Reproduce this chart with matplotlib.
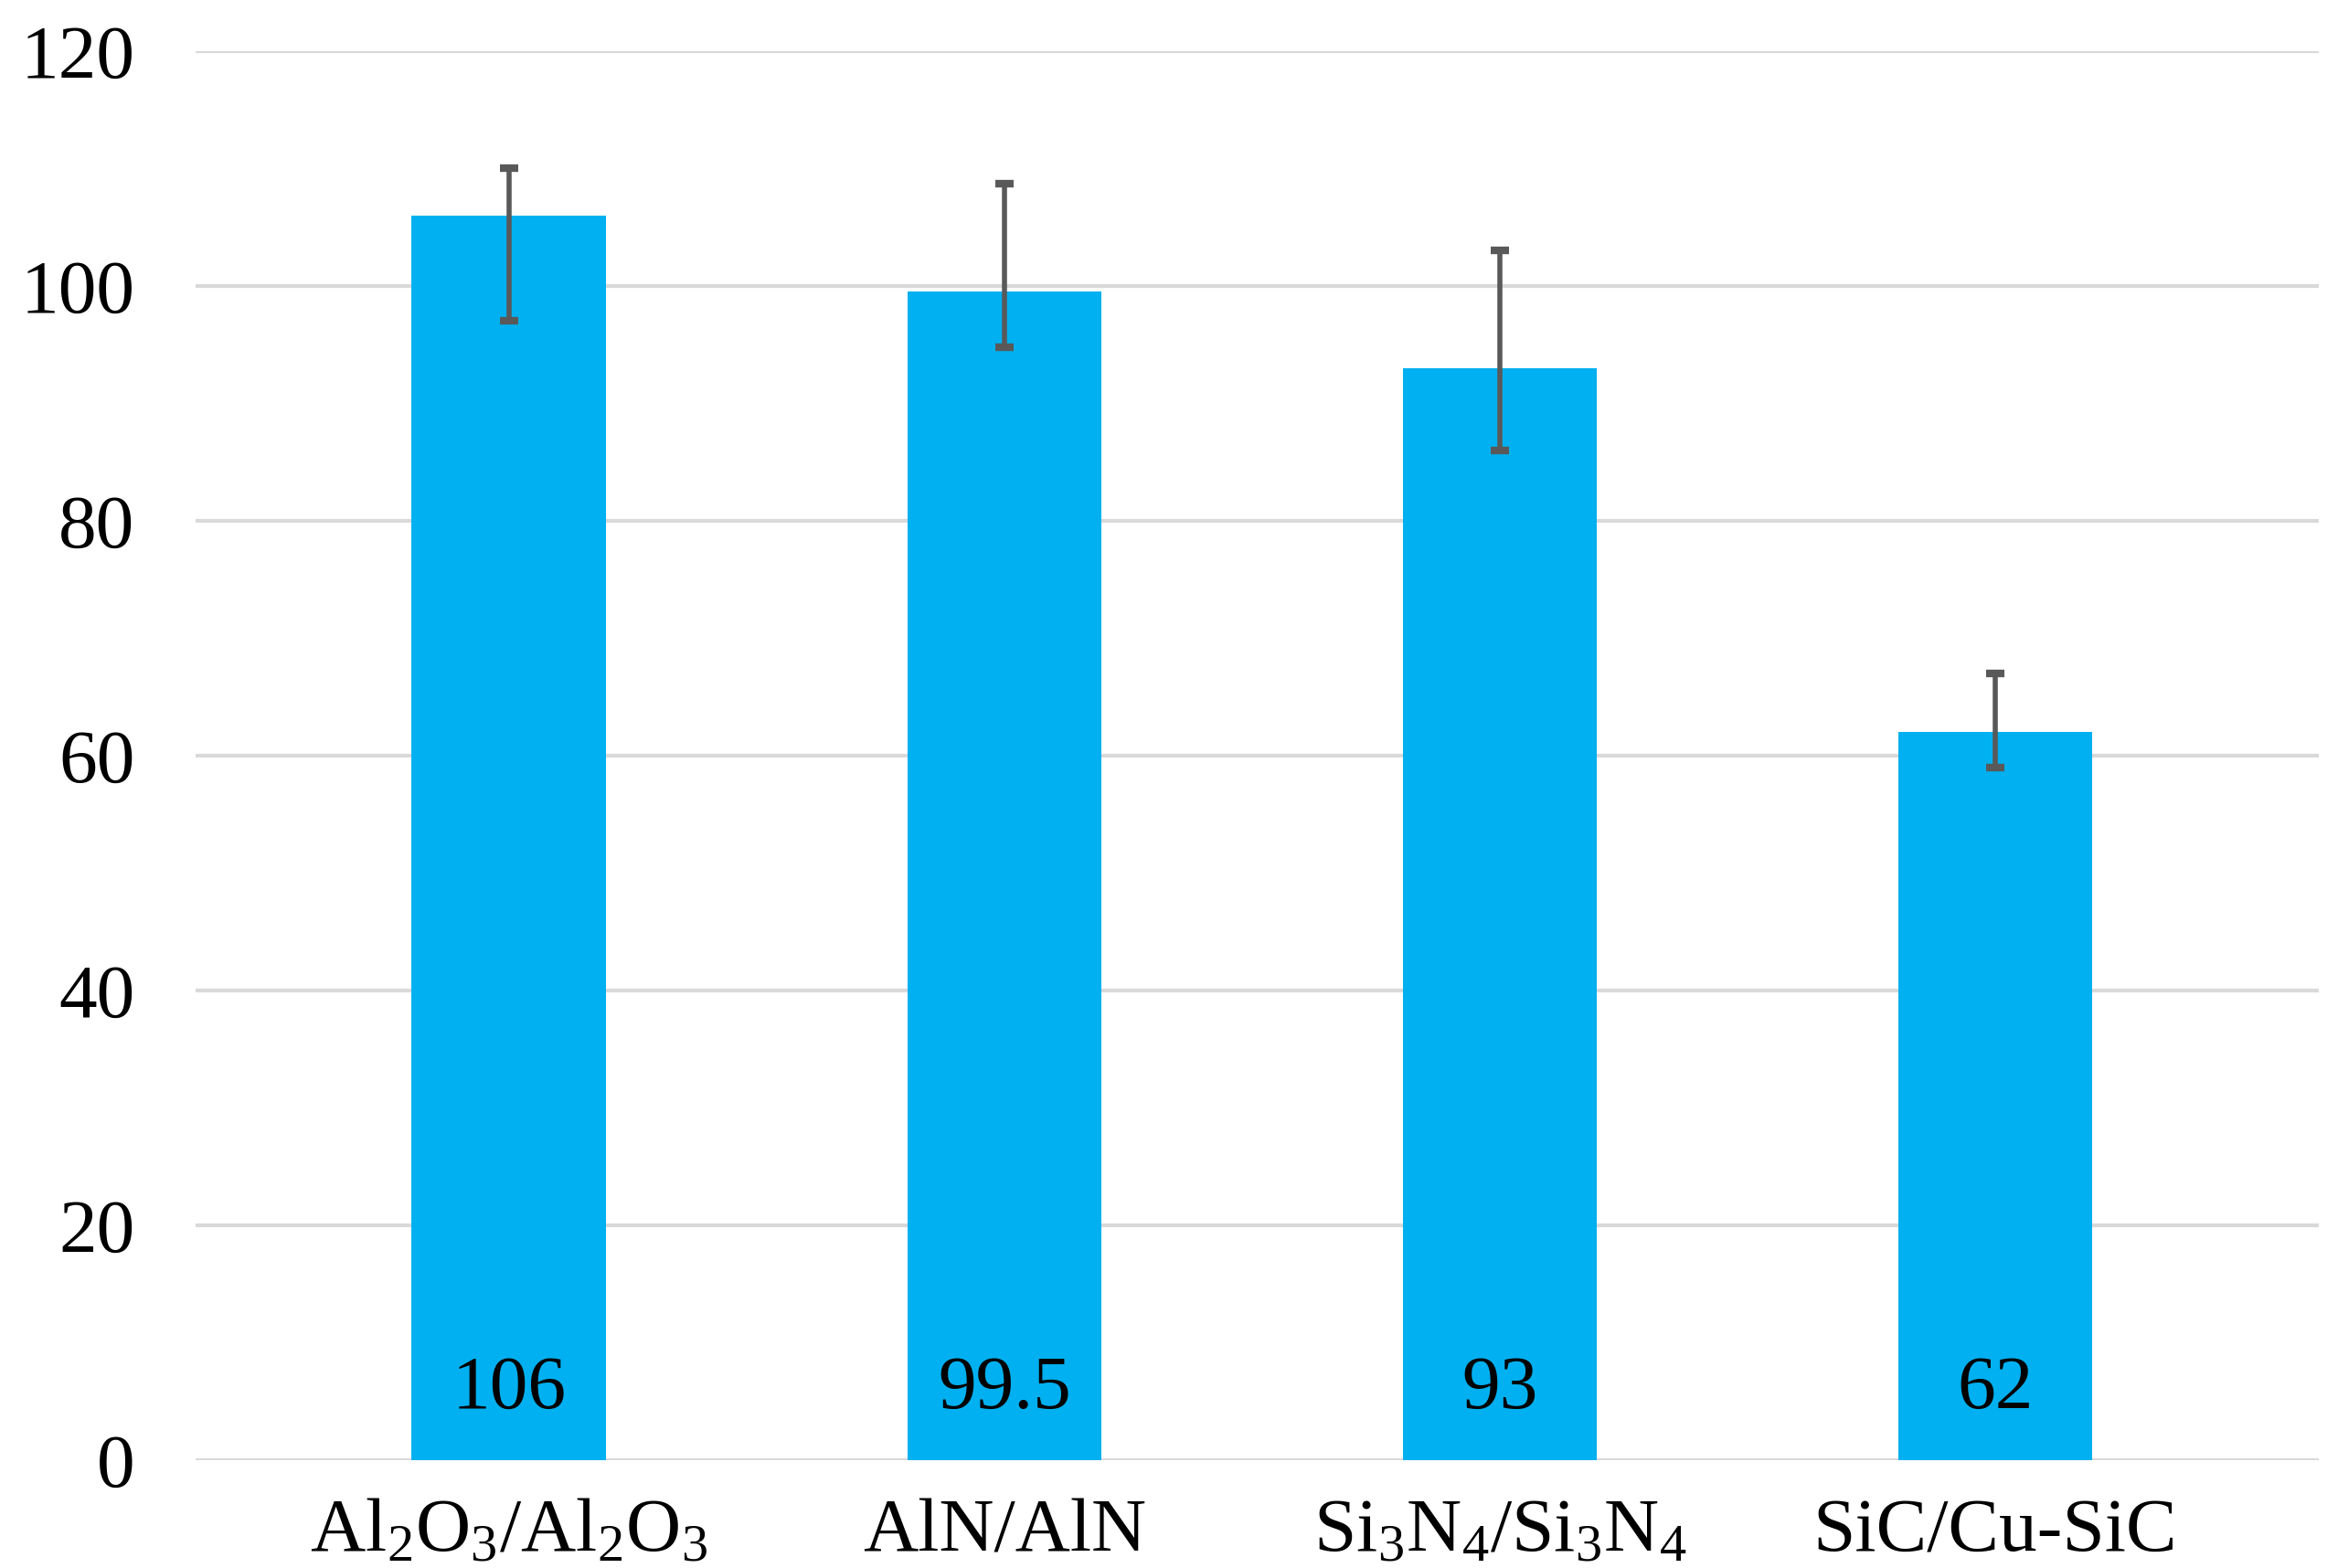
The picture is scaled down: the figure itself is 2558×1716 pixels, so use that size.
import matplotlib.pyplot as plt
import numpy as np

plt.rcParams['font.family'] = ['Liberation Serif', 'DejaVu Serif']
plt.rcParams['mathtext.fontset'] = 'custom'
plt.rcParams['mathtext.rm'] = 'Liberation Serif'
plt.rcParams['mathtext.default'] = 'regular'

# data
categories = [r'Al$_2$O$_3$/Al$_2$O$_3$', 'AlN/AlN',
              r'Si$_3$N$_4$/Si$_3$N$_4$', 'SiC/Cu-SiC']
values = [106, 99.5, 93, 62]
value_labels = ['106', '99.5', '93', '62']
err_low = [9, 4.7, 7, 3]
err_high = [4, 9.2, 10, 5]
yticks = [0, 20, 40, 60, 80, 100, 120]

fig = plt.figure(figsize=(25.58, 17.16), dpi=100)
ax = fig.add_axes([0.0837, 0.0688, 0.9081, 0.8986])

x = np.arange(len(categories))
ax.bar(x, values, width=0.392, color='#00B0F0', zorder=2)
ax.errorbar(x, values, yerr=[err_low, err_high], fmt='none',
            ecolor='#595959', elinewidth=4, capsize=7, capthick=6, zorder=3)

for xi, lab in zip(x, value_labels):
    ax.text(xi, 6, lab, ha='center', va='center', fontsize=60,
            color='black', zorder=4)

ax.set_xlim(-0.632, 3.653)
ax.set_ylim(0, 120)
ax.set_yticks(yticks)
ax.set_yticklabels([str(t) for t in yticks])
ax.set_xticks(x)
ax.set_xticklabels(categories)

ax.yaxis.grid(True, color='#D9D9D9', linewidth=3, zorder=0)
ax.set_axisbelow(True)
for s in ax.spines.values():
    s.set_visible(False)
ax.tick_params(axis='y', length=0, pad=48, labelsize=60)
ax.tick_params(axis='x', length=0, pad=30, labelsize=60)

fig.savefig('out.png', dpi=100)
